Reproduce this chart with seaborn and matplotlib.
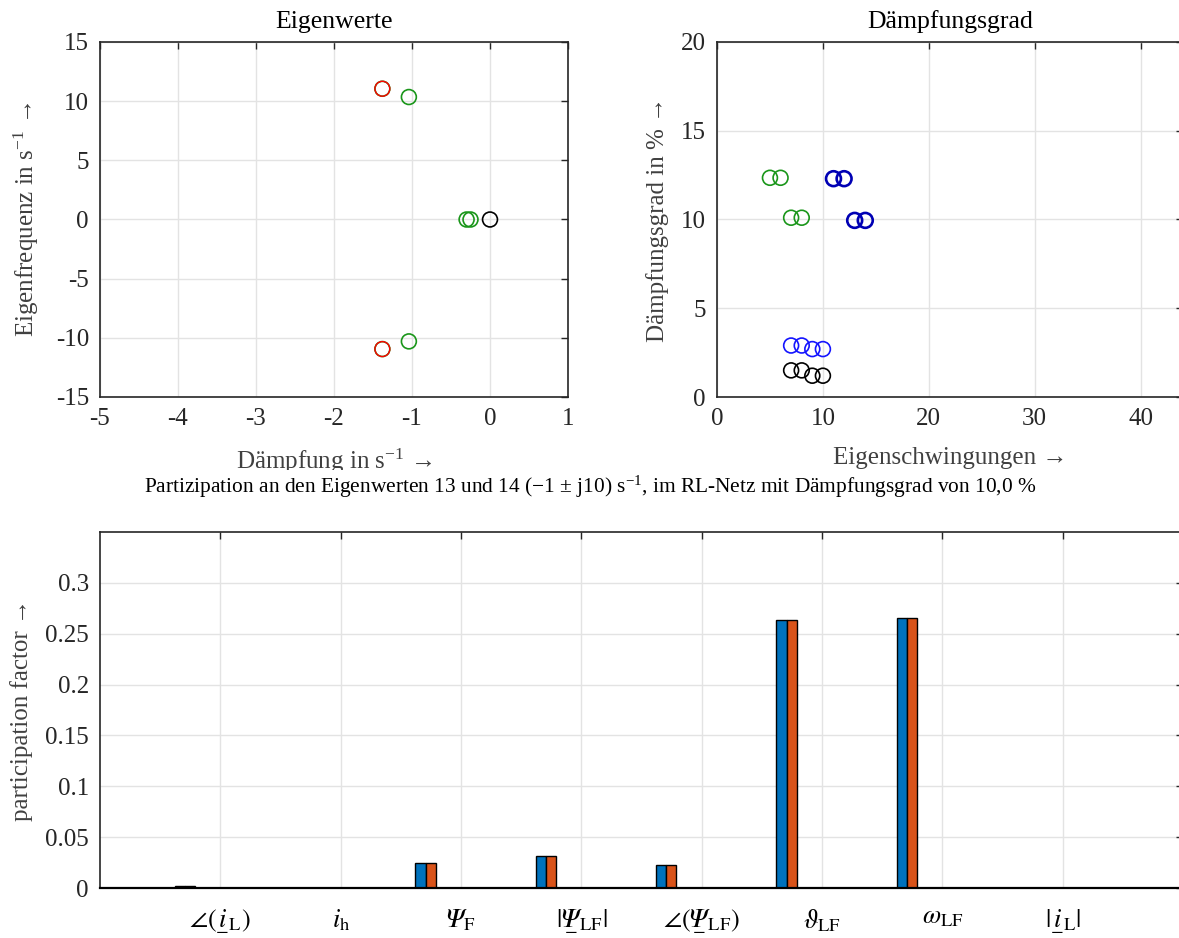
import numpy as np
import pandas as pd
import matplotlib
matplotlib.use("Agg")
import matplotlib.pyplot as plt
import seaborn as sns
from matplotlib.transforms import Bbox, TransformedBbox

# Eigenwerte (Realteil, Imaginaerteil) in 1/s
EIG_GREEN_RE = [-1.04, -1.04, -0.30, -0.25, -1.38, -1.38]
EIG_GREEN_IM = [10.35, -10.3, 0.0, 0.0, 11.05, -10.95]
EIG_RED_RE = [-1.38, -1.38]
EIG_RED_IM = [11.05, -10.95]
EIG_BLACK_RE = [0.0]
EIG_BLACK_IM = [0.0]

# Daempfungsgrad in % je Eigenschwingung
DG_GREEN_N = [5, 6, 7, 8]
DG_GREEN_Z = [12.35, 12.35, 10.1, 10.1]
DG_NAVY_N = [11, 12, 13, 14]
DG_NAVY_Z = [12.3, 12.3, 9.95, 9.95]
DG_BLUE_N = [7, 8, 9, 10]
DG_BLUE_Z = [2.9, 2.9, 2.7, 2.7]
DG_BLACK_N = [7, 8, 9, 10]
DG_BLACK_Z = [1.5, 1.5, 1.2, 1.2]

# Partizipationsfaktoren Eigenwert 13 / 14
STATES = ["angle_iL", "i_h", "Psi_F", "abs_PsiLF", "angle_PsiLF", "theta_LF", "omega_LF", "abs_iL"]
STATE_LABELS = [
    r"$\angle(\underset{-}{i}_{\mathrm{L}})$",
    r"$i_{\mathrm{h}}$",
    r"$𝛹_{\mathrm{F}}$",
    r"$|\underset{-}{𝛹}_{\mathrm{LF}}|$",
    r"$\angle(\underset{-}{𝛹}_{\mathrm{LF}})$",
    r"$\vartheta_{\mathrm{LF}}$",
    r"$\omega_{\mathrm{LF}}$",
    r"$|\underset{-}{i}_{\mathrm{L}}|$",
]
PF_EV13 = [0.0017, 0.0, 0.0245, 0.031, 0.0225, 0.2635, 0.2655, 0.0]
PF_EV14 = [0.0017, 0.0, 0.0245, 0.031, 0.0225, 0.2635, 0.2655, 0.0]

sns.set_style("white")
plt.rcParams["font.family"] = ["Liberation Serif", "DejaVu Serif"]
plt.rcParams["mathtext.fontset"] = "custom"
plt.rcParams["mathtext.rm"] = "Liberation Serif"
plt.rcParams["mathtext.it"] = "Liberation Serif:italic"
plt.rcParams["axes.unicode_minus"] = False

GRID = "#e3e3e3"
AX_C = "#262626"
LAB_C = "#404040"

fig = plt.figure(figsize=(11.79, 9.38), dpi=100, facecolor="white")
ax1 = fig.add_axes([100 / 1179, 541 / 938, 468 / 1179, 355 / 938])
ax2 = fig.add_axes([717 / 1179, 541 / 938, 466 / 1179, 355 / 938])
ax3 = fig.add_axes([100 / 1179, 50 / 938, 1083 / 1179, 356 / 938])


def style(ax):
    ax.grid(True, color=GRID, linewidth=1)
    ax.set_axisbelow(True)
    for s in ax.spines.values():
        s.set_color(AX_C)
        s.set_linewidth(1.2)
        s.set_visible(True)
    ax.tick_params(direction="in", length=5, width=1, top=True, right=True,
                   colors=AX_C, labelsize=18, pad=8)


def rings(ax, x, y, color, lw=1.2):
    sns.scatterplot(x=x, y=y, ax=ax, marker="o", s=115, color=color,
                    facecolor="none", edgecolor=color, linewidth=lw, zorder=3)


# --- Eigenwerte
rings(ax1, EIG_GREEN_RE, EIG_GREEN_IM, "#1a961a")
rings(ax1, EIG_RED_RE, EIG_RED_IM, "#ff0000", lw=1.0)
rings(ax1, EIG_BLACK_RE, EIG_BLACK_IM, "black")
ax1.set_xlim(-5, 1)
ax1.set_ylim(-15, 15)
ax1.set_xticks(range(-5, 2))
ax1.set_yticks(range(-15, 16, 5))
style(ax1)
ax1.set_title("Eigenwerte", fontsize=18.5, pad=10, color="black")
ax1.set_xlabel(r"Dämpfung in s$^{-1}$ →", fontsize=18, color=LAB_C)
ax1.set_ylabel(r"Eigenfrequenz in s$^{-1}$ →", fontsize=18, color=LAB_C)
ax1.xaxis.set_label_coords(0.5, -0.141)
ax1.yaxis.set_label_coords(-0.126, 0.5)

# --- Daempfungsgrad
rings(ax2, DG_GREEN_N, DG_GREEN_Z, "#1a961a")
rings(ax2, DG_BLUE_N, DG_BLUE_Z, "#1414ff")
rings(ax2, DG_BLACK_N, DG_BLACK_Z, "black")
rings(ax2, DG_NAVY_N, DG_NAVY_Z, "#0000b4", lw=1.9)
ax2.set_xlim(0, 44)
ax2.set_ylim(0, 20)
ax2.set_xticks([0, 10, 20, 30, 40])
ax2.set_yticks([0, 5, 10, 15, 20])
style(ax2)
ax2.set_title("Dämpfungsgrad", fontsize=18.5, pad=10, color="black")
ax2.set_xlabel("Eigenschwingungen →", fontsize=18, color=LAB_C)
ax2.set_ylabel("Dämpfungsgrad in % →", fontsize=18, color=LAB_C)
ax2.xaxis.set_label_coords(0.5, -0.141)
ax2.yaxis.set_label_coords(-0.103, 0.5)

# obere Bilder sind unten abgeschnitten
clip = TransformedBbox(Bbox([[0, 468 / 938], [1, 1]]), fig.transFigure)
for t in [ax1.xaxis.label, ax2.xaxis.label]:
    t.set_clip_box(clip)
    t.set_clip_on(True)

# --- Partizipationsfaktoren
df = pd.DataFrame({
    "state": STATES * 2,
    "pf": PF_EV13 + PF_EV14,
    "ev": ["13"] * len(STATES) + ["14"] * len(STATES),
})
sns.barplot(data=df, x="state", y="pf", hue="ev", ax=ax3,
            palette=["#0072BD", "#D95319"], width=0.17, dodge=True,
            saturation=1, edgecolor="black", linewidth=1, legend=False)
off = 0.295
ax3.set_xlim(-1 + off, len(STATES) + off)
ax3.set_ylim(0, 0.35)
ax3.set_xticks(np.arange(len(STATES)) + off, labels=STATE_LABELS)
ax3.set_yticks([0, 0.05, 0.1, 0.15, 0.2, 0.25, 0.3],
               labels=["0", "0.05", "0.1", "0.15", "0.2", "0.25", "0.3"])
style(ax3)
ax3.tick_params(axis="x", pad=14)
ax3.spines["bottom"].set_linewidth(1.6)
ax3.spines["bottom"].set_color("black")
for lab in ax3.get_xticklabels():
    lab.set_math_fontfamily("stix")
    lab.set_color("black")
    lab.set_fontsize(19)
ax3.set_xlabel("")
ax3.set_ylabel("participation factor →", fontsize=18, color=LAB_C)
ax3.yaxis.set_label_coords(-0.062, 0.5)

fig.text(590 / 1179, 1 - 493 / 938,
         "Partizipation an den Eigenwerten 13 und 14 (−1 ± j10) s$^{-1}$, "
         "im RL-Netz mit Dämpfungsgrad von 10,0 %",
         ha="center", va="baseline", fontsize=15.4, color="black")

fig.savefig("out.png", dpi=100, facecolor="white")
